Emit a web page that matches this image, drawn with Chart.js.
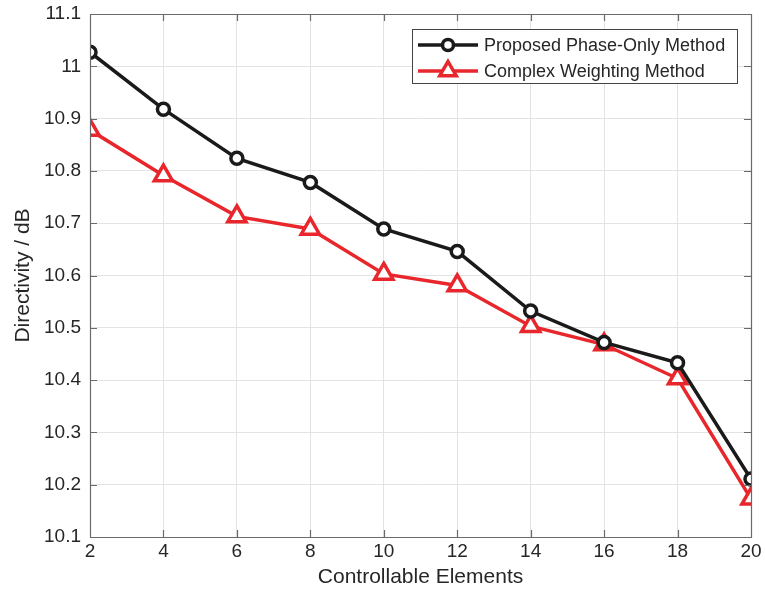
<!DOCTYPE html>
<html>
<head>
<meta charset="utf-8">
<script src="https://cdn.jsdelivr.net/npm/chart.js@4.4.0/dist/chart.umd.min.js"></script>
<style>
html,body{margin:0;padding:0;background:#fff;}
#wrap{width:765px;height:590px;}
</style>
</head>
<body>
<div id="wrap"><canvas id="c" width="765" height="590"></canvas></div>
<script>
const elements = [2, 4, 6, 8, 10, 12, 14, 16, 18, 20];
const phaseOnly = [11.027, 10.918, 10.824, 10.778, 10.689, 10.646, 10.532, 10.472, 10.433, 10.211];
const complexW = [10.878, 10.791, 10.713, 10.689, 10.603, 10.581, 10.503, 10.468, 10.403, 10.173];
const seriesNames = ['Proposed Phase-Only Method', 'Complex Weighting Method'];
const yTicks = [10.1, 10.2, 10.3, 10.4, 10.5, 10.6, 10.7, 10.8, 10.9, 11, 11.1];

const FONT = '"Liberation Sans", Arial, Helvetica, sans-serif';
const TXT = '#262626';
const BLACK = '#1a1a1a';
const RED = '#e8262b';
const AXIS = '#6a6a6a';

const boxTicks = {
  id: 'boxTicks',
  afterDraw(chart) {
    const {ctx, chartArea: a, scales} = chart;
    ctx.save();
    ctx.strokeStyle = AXIS;
    ctx.lineWidth = 1.2;
    ctx.beginPath();
    ctx.rect(a.left + 0.5, a.top + 0.5, a.right - a.left, a.bottom - a.top);
    elements.forEach(v => {
      const x = Math.round(scales.x.getPixelForValue(v)) + 0.5;
      ctx.moveTo(x, a.bottom); ctx.lineTo(x, a.bottom - 7);
      ctx.moveTo(x, a.top); ctx.lineTo(x, a.top + 7);
    });
    yTicks.forEach(v => {
      const y = Math.round(scales.y.getPixelForValue(v)) + 0.5;
      ctx.moveTo(a.left, y); ctx.lineTo(a.left + 7, y);
      ctx.moveTo(a.right, y); ctx.lineTo(a.right - 7, y);
    });
    ctx.stroke();

    // legend
    const lx = 412, ly = 29, lw = 325, lh = 54;
    ctx.fillStyle = '#fff';
    ctx.fillRect(lx, ly, lw, lh);
    ctx.strokeStyle = '#444';
    ctx.lineWidth = 1;
    ctx.strokeRect(lx + 0.5, ly + 0.5, lw, lh);
    chart.data.datasets.forEach((ds, i) => {
      const y = 45 + i * 26;
      ctx.strokeStyle = ds.borderColor;
      ctx.lineWidth = 3.5;
      ctx.beginPath();
      ctx.moveTo(418, y); ctx.lineTo(478, y);
      ctx.stroke();
      ctx.fillStyle = '#fff';
      ctx.beginPath();
      if (ds.pointStyle === 'circle') {
        ctx.arc(448, y, 5.5, 0, Math.PI * 2);
      } else {
        const r = 9.5;
        ctx.moveTo(448, y - r);
        ctx.lineTo(448 + r * 0.866, y + r * 0.5);
        ctx.lineTo(448 - r * 0.866, y + r * 0.5);
        ctx.closePath();
      }
      ctx.fill();
      ctx.stroke();
      ctx.fillStyle = TXT;
      ctx.font = '18px ' + FONT;
      ctx.textAlign = 'left';
      ctx.textBaseline = 'middle';
      ctx.fillText(ds.label, 484, y + 1);
    });
    ctx.restore();
  }
};

new Chart(document.getElementById('c'), {
  type: 'line',
  data: {
    datasets: [
      {
        label: seriesNames[0],
        data: elements.map((x, i) => ({x, y: phaseOnly[i]})),
        borderColor: BLACK,
        backgroundColor: '#fff',
        borderWidth: 3.5,
        pointStyle: 'circle',
        pointRadius: 6,
        pointBorderWidth: 3.5,
        pointBackgroundColor: '#fff',
        pointBorderColor: BLACK,
        tension: 0
      },
      {
        label: seriesNames[1],
        data: elements.map((x, i) => ({x, y: complexW[i]})),
        borderColor: RED,
        backgroundColor: '#fff',
        borderWidth: 3.5,
        pointStyle: 'triangle',
        pointRadius: 10.5,
        pointBorderWidth: 3.5,
        pointBackgroundColor: '#fff',
        pointBorderColor: RED,
        tension: 0
      }
    ]
  },
  options: {
    responsive: false,
    animation: false,
    devicePixelRatio: 1,
    layout: {padding: {left: 0, top: 12, right: 12, bottom: 0}},
    plugins: {legend: {display: false}, tooltip: {enabled: false}},
    scales: {
      x: {
        type: 'linear',
        min: 2, max: 20,
        afterBuildTicks(s) { s.ticks = elements.map(v => ({value: v})); },
        afterFit(s) { s.height = 53; s.paddingLeft = 0; s.paddingRight = 0; },
        grid: {color: '#e3e3e3', lineWidth: 1, drawTicks: false},
        border: {display: false},
        ticks: {color: TXT, font: {family: FONT, size: 19}, padding: 3, maxRotation: 0, autoSkip: false},
        title: {display: true, text: 'Controllable Elements', color: TXT, font: {family: FONT, size: 21}, padding: {top: 0, bottom: 0}}
      },
      y: {
        type: 'linear',
        min: 10.1, max: 11.1,
        afterBuildTicks(s) { s.ticks = yTicks.map(v => ({value: v})); },
        afterFit(s) { s.width = 90; s.paddingTop = 0; s.paddingBottom = 0; },
        grid: {color: '#e3e3e3', lineWidth: 1, drawTicks: false},
        border: {display: false},
        ticks: {color: TXT, font: {family: FONT, size: 19}, padding: 9,
          callback: v => String(Math.round(v * 10) / 10)},
        title: {display: true, text: 'Directivity / dB', color: TXT, font: {family: FONT, size: 21}, padding: {top: 11, bottom: 0}}
      }
    }
  },
  plugins: [boxTicks]
});
</script>
</body>
</html>
